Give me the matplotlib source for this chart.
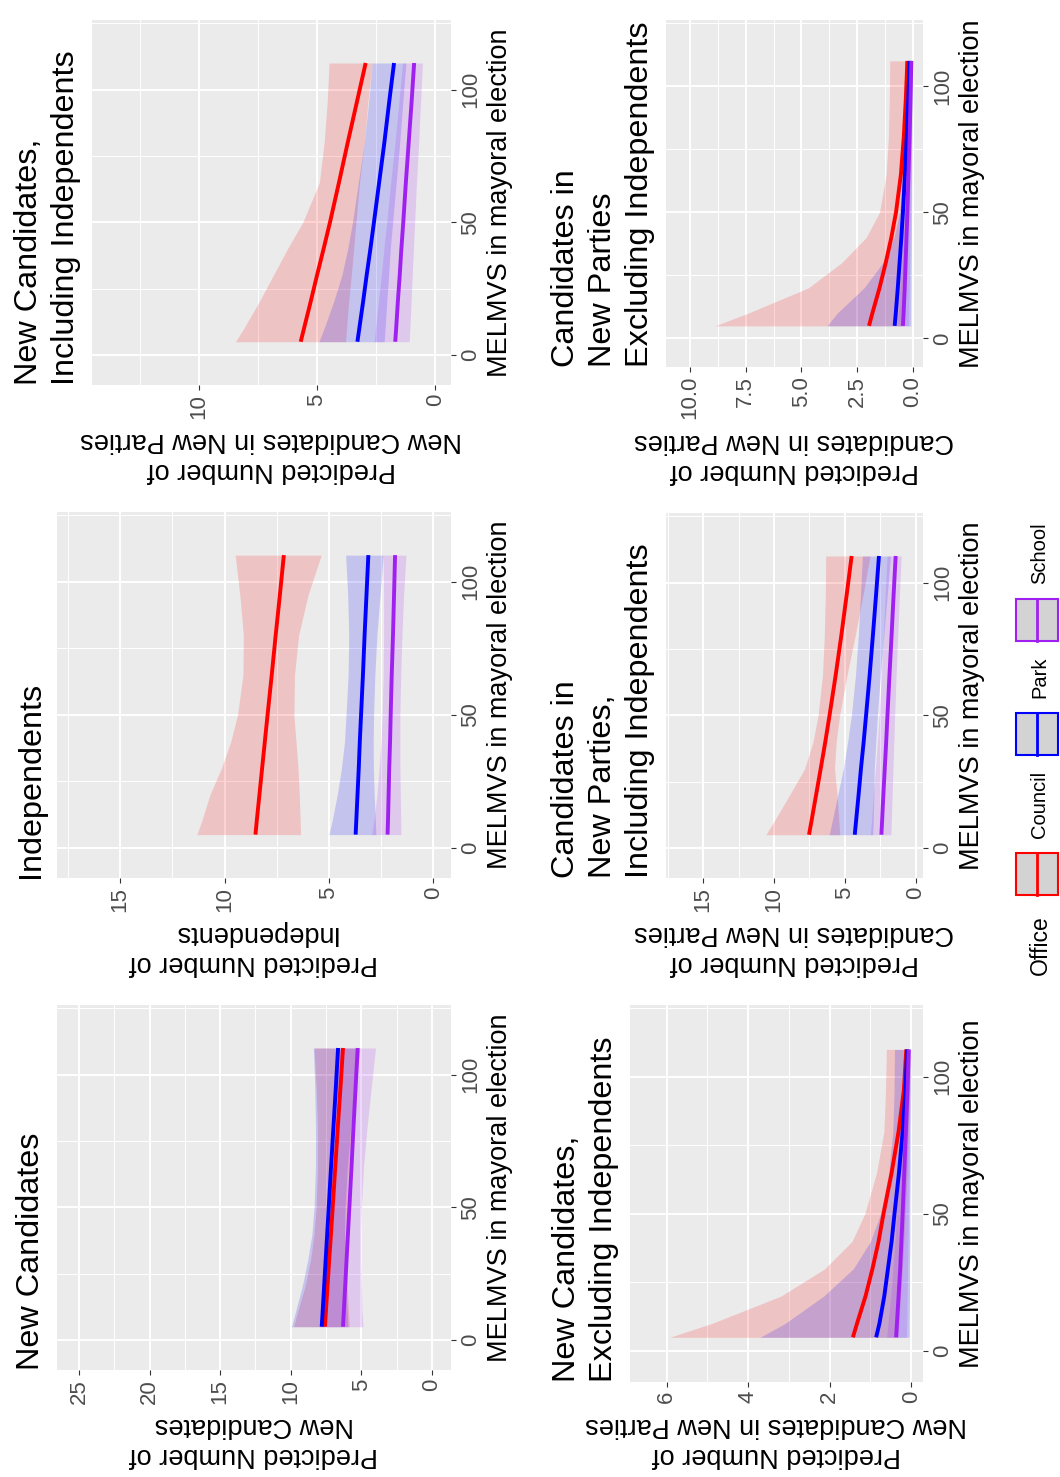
import matplotlib
matplotlib.use('Agg')
import matplotlib.pyplot as plt
from matplotlib.patches import Rectangle
from matplotlib.lines import Line2D
from matplotlib.ticker import MultipleLocator, FormatStrFormatter

plt.rcParams['font.family'] = ['Liberation Sans', 'DejaVu Sans']

W, H = 1060, 1477

melmvs = [5, 10, 20, 30, 40, 50, 65, 80, 95, 110]
offices = ['Council', 'Park', 'School']
colors = {'Council': '#FF0000', 'Park': '#0000FF', 'School': '#A020F0'}

# New Candidates
nc_fit = {'Council': [7.58, 7.52, 7.40, 7.28, 7.15, 7.03, 6.85, 6.67, 6.48, 6.30],
          'Park':    [7.81, 7.75, 7.64, 7.53, 7.42, 7.31, 7.15, 6.98, 6.81, 6.65],
          'School':  [6.30, 6.25, 6.15, 6.05, 5.95, 5.85, 5.70, 5.56, 5.41, 5.26]}
nc_lo = {'Council': [5.85, 5.90, 6.00, 6.05, 6.10, 6.05, 5.90, 5.65, 5.40, 5.10],
         'Park':    [5.95, 6.00, 6.10, 6.15, 6.20, 6.15, 6.00, 5.75, 5.50, 5.25],
         'School':  [4.88, 4.95, 5.00, 5.05, 5.05, 5.00, 4.85, 4.60, 4.30, 4.00]}
nc_hi = {'Council': [9.80, 9.55, 9.00, 8.60, 8.35, 8.20, 8.10, 8.10, 8.20, 8.35],
         'Park':    [9.95, 9.70, 9.20, 8.80, 8.50, 8.35, 8.25, 8.25, 8.30, 8.40],
         'School':  [7.90, 7.80, 7.60, 7.35, 7.15, 7.00, 6.85, 6.80, 6.75, 6.70]}

# Independents
ind_fit = {'Council': [8.52, 8.46, 8.33, 8.20, 8.07, 7.94, 7.74, 7.55, 7.35, 7.16],
           'Park':    [3.72, 3.69, 3.63, 3.57, 3.52, 3.46, 3.37, 3.29, 3.20, 3.11],
           'School':  [2.19, 2.17, 2.14, 2.11, 2.07, 2.04, 1.99, 1.93, 1.88, 1.83]}
ind_lo = {'Council': [6.36, 6.38, 6.42, 6.48, 6.58, 6.68, 6.65, 6.45, 6.00, 5.37],
          'Park':    [2.75, 2.78, 2.83, 2.87, 2.88, 2.86, 2.80, 2.70, 2.55, 2.40],
          'School':  [1.55, 1.56, 1.58, 1.60, 1.60, 1.60, 1.56, 1.50, 1.42, 1.31]}
ind_hi = {'Council': [11.33, 11.10, 10.70, 10.15, 9.70, 9.38, 9.12, 9.10, 9.27, 9.49],
          'Park':    [5.00, 4.85, 4.60, 4.40, 4.25, 4.18, 4.08, 4.05, 4.10, 4.20],
          'School':  [2.95, 2.85, 2.70, 2.60, 2.50, 2.45, 2.40, 2.38, 2.38, 2.40]}

# New Candidates, Including Independents
nci_fit = {'Council': [5.69, 5.55, 5.27, 5.00, 4.72, 4.45, 4.07, 3.70, 3.32, 2.94],
           'Park':    [3.29, 3.21, 3.05, 2.90, 2.74, 2.59, 2.37, 2.15, 1.95, 1.74],
           'School':  [1.69, 1.65, 1.58, 1.50, 1.43, 1.35, 1.24, 1.12, 1.00, 0.89]}
nci_lo = {'Council': [3.79, 3.75, 3.66, 3.55, 3.45, 3.35, 3.20, 3.00, 2.85, 2.66],
          'Park':    [2.16, 2.12, 2.05, 1.97, 1.90, 1.80, 1.65, 1.50, 1.37, 1.24],
          'School':  [1.10, 1.07, 1.02, 0.97, 0.92, 0.87, 0.79, 0.70, 0.62, 0.54]}
nci_hi = {'Council': [8.45, 8.10, 7.45, 6.85, 6.25, 5.60, 4.90, 4.70, 4.57, 4.49],
          'Park':    [4.92, 4.70, 4.30, 3.95, 3.70, 3.50, 3.25, 3.00, 2.82, 2.66],
          'School':  [2.58, 2.52, 2.40, 2.28, 2.17, 2.05, 1.88, 1.70, 1.54, 1.38]}

# New Candidates, Excluding Independents
nce_fit = {'Council': [1.43, 1.33, 1.12, 0.95, 0.80, 0.68, 0.48, 0.31, 0.18, 0.12],
           'Park':    [0.86, 0.78, 0.66, 0.57, 0.48, 0.41, 0.30, 0.21, 0.14, 0.10],
           'School':  [0.37, 0.35, 0.31, 0.27, 0.24, 0.21, 0.17, 0.13, 0.09, 0.06]}
nce_lo = {'Council': [0.32, 0.30, 0.26, 0.22, 0.18, 0.15, 0.10, 0.07, 0.04, 0.02],
          'Park':    [0.05, 0.05, 0.04, 0.04, 0.03, 0.03, 0.02, 0.02, 0.01, 0.01],
          'School':  [0.12, 0.11, 0.10, 0.09, 0.08, 0.07, 0.05, 0.04, 0.03, 0.02]}
nce_hi = {'Council': [5.93, 4.90, 3.20, 2.12, 1.45, 1.14, 0.85, 0.67, 0.63, 0.61],
          'Park':    [3.71, 3.10, 2.15, 1.42, 1.00, 0.75, 0.55, 0.45, 0.42, 0.41],
          'School':  [0.60, 0.57, 0.50, 0.45, 0.40, 0.36, 0.30, 0.24, 0.18, 0.13]}

# Candidates in New Parties, Including Independents
cpi_fit = {'Council': [7.53, 7.36, 7.03, 6.70, 6.38, 6.08, 5.65, 5.25, 4.88, 4.52],
           'Park':    [4.30, 4.21, 4.03, 3.86, 3.67, 3.50, 3.25, 3.02, 2.80, 2.59],
           'School':  [2.42, 2.37, 2.28, 2.18, 2.08, 1.99, 1.85, 1.70, 1.56, 1.41]}
cpi_lo = {'Council': [5.36, 5.42, 5.55, 5.73, 5.61, 5.37, 4.85, 4.27, 3.73, 3.22],
          'Park':    [3.03, 3.00, 2.95, 2.92, 2.81, 2.70, 2.49, 2.25, 2.01, 1.78],
          'School':  [1.75, 1.72, 1.66, 1.60, 1.54, 1.48, 1.38, 1.27, 1.15, 1.02]}
cpi_hi = {'Council': [10.58, 10.00, 8.90, 7.83, 7.25, 6.89, 6.58, 6.45, 6.38, 6.35],
          'Park':    [6.11, 5.90, 5.50, 5.10, 4.80, 4.54, 4.25, 4.05, 3.90, 3.76],
          'School':  [3.20, 3.12, 2.98, 2.84, 2.70, 2.58, 2.42, 2.28, 2.15, 2.02]}

# Candidates in New Parties Excluding Independents
cpe_fit = {'Council': [1.97, 1.82, 1.50, 1.22, 0.97, 0.76, 0.54, 0.41, 0.32, 0.25],
           'Park':    [0.82, 0.77, 0.68, 0.60, 0.52, 0.45, 0.36, 0.28, 0.21, 0.15],
           'School':  [0.45, 0.42, 0.37, 0.33, 0.29, 0.25, 0.20, 0.15, 0.11, 0.07]}
cpe_lo = {'Council': [0.44, 0.42, 0.40, 0.37, 0.33, 0.30, 0.22, 0.15, 0.10, 0.06],
          'Park':    [0.10, 0.10, 0.09, 0.08, 0.07, 0.06, 0.05, 0.04, 0.03, 0.03],
          'School':  [0.20, 0.19, 0.17, 0.15, 0.13, 0.11, 0.08, 0.06, 0.04, 0.02]}
cpe_hi = {'Council': [8.88, 7.40, 4.70, 3.20, 2.10, 1.50, 1.20, 1.10, 1.06, 1.04],
          'Park':    [3.85, 3.40, 2.20, 1.35, 0.85, 0.60, 0.47, 0.42, 0.39, 0.37],
          'School':  [0.70, 0.66, 0.58, 0.50, 0.43, 0.37, 0.30, 0.24, 0.19, 0.15]}

panels = [
    dict(title='New Candidates', xlabel='Predicted Number of\nNew Candidates',
         fit=nc_fit, lo=nc_lo, hi=nc_hi, lim=(26.56, -1.35), major=5, fmt='%d',
         box=(57, 1005, 451, 1370)),
    dict(title='Independents', xlabel='Predicted Number of\nIndependents',
         fit=ind_fit, lo=ind_lo, hi=ind_hi, lim=(18.03, -0.85), major=5, fmt='%d',
         box=(57, 512, 451, 878)),
    dict(title='New Candidates,\nIncluding Independents',
         xlabel='Predicted Number of\nNew Candidates in New Parties',
         fit=nci_fit, lo=nci_lo, hi=nci_hi, lim=(14.52, -0.67), major=5, fmt='%d',
         box=(92, 20, 451, 385)),
    dict(title='New Candidates,\nExcluding Independents',
         xlabel='Predicted Number of\nNew Candidates in New Parties',
         fit=nce_fit, lo=nce_lo, hi=nce_hi, lim=(6.9, -0.29), major=2, fmt='%d',
         box=(630, 1005, 923, 1382)),
    dict(title='Candidates in\nNew Parties,\nIncluding Independents',
         xlabel='Predicted Number of\nCandidates in New Parties',
         fit=cpi_fit, lo=cpi_lo, hi=cpi_hi, lim=(17.63, -0.52), major=5, fmt='%d',
         box=(666, 513, 923, 878)),
    dict(title='Candidates in\nNew Parties\nExcluding Independents',
         xlabel='Predicted Number of\nCandidates in New Parties',
         fit=cpe_fit, lo=cpe_lo, hi=cpe_hi, lim=(11.07, -0.45), major=2.5, fmt='%.1f',
         box=(666, 20, 923, 367)),
]

fig = plt.figure(figsize=(W / 100, H / 100), dpi=100)

for p in panels:
    x0, y0, x1, y1 = p['box']
    ax = fig.add_axes([x0 / W, 1 - y1 / H, (x1 - x0) / W, (y1 - y0) / H])
    ax.set_facecolor('#EBEBEB')
    for s in ax.spines.values():
        s.set_visible(False)

    for o in offices:
        ax.fill_betweenx(melmvs, p['lo'][o], p['hi'][o], color=colors[o],
                         alpha=0.17, lw=0)
    for o in offices:
        ax.plot(p['fit'][o], melmvs, color=colors[o], lw=2.8,
                solid_capstyle='butt')

    ax.set_xlim(*p['lim'])
    ax.set_ylim(-11.3, 126.2)
    ax.xaxis.set_major_locator(MultipleLocator(p['major']))
    ax.xaxis.set_minor_locator(MultipleLocator(p['major'] / 2))
    ax.xaxis.set_major_formatter(FormatStrFormatter(p['fmt']))
    ax.yaxis.set_major_locator(MultipleLocator(50))
    ax.yaxis.set_minor_locator(MultipleLocator(25))
    ax.grid(which='major', color='white', lw=1.4)
    ax.grid(which='minor', color='white', lw=0.7)
    ax.set_axisbelow(True)

    ax.yaxis.tick_right()
    ax.yaxis.set_label_position('right')
    ax.tick_params(which='major', length=3.5, width=0.8, color='#333333',
                   labelcolor='#4D4D4D', labelsize=16, pad=3)
    ax.tick_params(which='minor', length=0)
    ax.tick_params(axis='x', labelrotation=90)
    ax.tick_params(axis='y', labelrotation=90)
    for lab in ax.get_yticklabels():
        lab.set_va('center')

    ax.set_xlabel(p['xlabel'], fontsize=19.5, rotation=180, labelpad=6,
                  linespacing=1.2)
    ax.set_ylabel('MELMVS in mayoral election', fontsize=19.5, labelpad=4)

    ax.annotate(p['title'], xy=(0, 0), xycoords='axes fraction',
                xytext=(-8, 0), textcoords='offset points', rotation=90,
                ha='right', va='bottom', multialignment='left',
                fontsize=23.3, linespacing=1.3)

# legend, laid out bottom to top along the right edge
renderer = fig.canvas.get_renderer()
key_x0, key_w = 1016, 42
text_x = 1040
cursor = 975
t = fig.text(text_x / W, 1 - cursor / H, 'Office', rotation=90, ha='center',
             va='bottom', fontsize=16.5)
cursor -= t.get_window_extent(renderer).height + 20
for o in offices:
    top = cursor - key_w
    fig.add_artist(Rectangle((key_x0 / W, 1 - cursor / H), key_w / W, key_w / H,
                             transform=fig.transFigure, facecolor='#D3D3D3',
                             edgecolor=colors[o], lw=1.5))
    cx = (key_x0 + key_w / 2) / W
    fig.add_artist(Line2D([cx, cx], [1 - cursor / H, 1 - top / H],
                          transform=fig.transFigure, color=colors[o], lw=2))
    cursor = top - 15
    t = fig.text(text_x / W, 1 - cursor / H, o, rotation=90, ha='center',
                 va='bottom', fontsize=14.5)
    cursor -= t.get_window_extent(renderer).height + 16

fig.savefig('out.png', dpi=100)
